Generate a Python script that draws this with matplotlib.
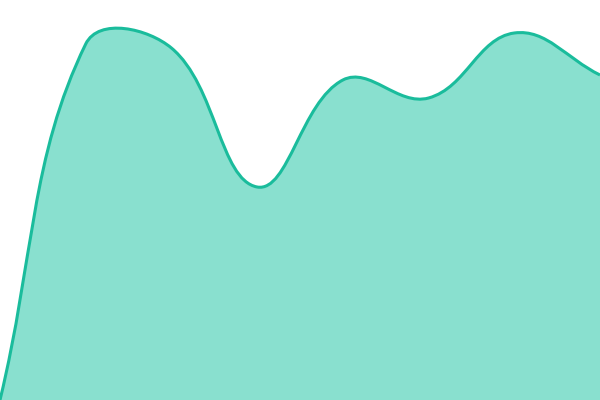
import numpy as np
import matplotlib
matplotlib.use("Agg")
import matplotlib.pyplot as plt
from matplotlib.path import Path
from matplotlib.patches import PathPatch

# Data
categories = list(range(8))
values = [0, 89, 88, 53.25, 80, 75.5, 91.75, 81.25]
y_min, y_max = 0, 100
tension = 0.4

line_color = "#1abc9c"
fill_color = "#89e0cf"

fig = plt.figure(figsize=(6, 4), dpi=100)
ax = fig.add_axes([0, 0, 1, 1])
ax.set_xlim(categories[0], categories[-1])
ax.set_ylim(y_min, y_max)
ax.axis("off")

# Chart.js-style bezier spline computed in display space
pts = ax.transData.transform(np.column_stack([categories, values]))
bb = ax.bbox
n = len(pts)
cp_prev = np.zeros_like(pts)
cp_next = np.zeros_like(pts)
for i in range(n):
    cur = pts[i]
    prev = pts[i - 1] if i > 0 else cur
    nxt = pts[i + 1] if i < n - 1 else cur
    d01 = np.hypot(*(cur - prev))
    d12 = np.hypot(*(nxt - cur))
    tot = d01 + d12
    s01 = d01 / tot if tot else 0
    s12 = d12 / tot if tot else 0
    fa, fb = tension * s01, tension * s12
    cp_prev[i] = cur - fa * (nxt - prev)
    cp_next[i] = cur + fb * (nxt - prev)
# cap to chart area
for arr in (cp_prev, cp_next):
    arr[:, 0] = np.clip(arr[:, 0], bb.x0, bb.x1)
    arr[:, 1] = np.clip(arr[:, 1], bb.y0, bb.y1)

verts = [pts[0]]
codes = [Path.MOVETO]
for i in range(n - 1):
    verts += [cp_next[i], cp_prev[i + 1], pts[i + 1]]
    codes += [Path.CURVE4] * 3
inv = ax.transData.inverted()
line_verts = inv.transform(np.array(verts))

fill_verts = np.vstack([line_verts, [[categories[-1], y_min], [categories[0], y_min], line_verts[0]]])
fill_codes = codes + [Path.LINETO, Path.LINETO, Path.CLOSEPOLY]

ax.add_patch(PathPatch(Path(fill_verts, fill_codes), facecolor=fill_color, edgecolor="none", clip_on=False))
ax.add_patch(PathPatch(Path(line_verts, codes), facecolor="none", edgecolor=line_color, lw=2.2,
                       capstyle="butt", joinstyle="round", clip_on=True))

fig.savefig("out.png", dpi=100)
